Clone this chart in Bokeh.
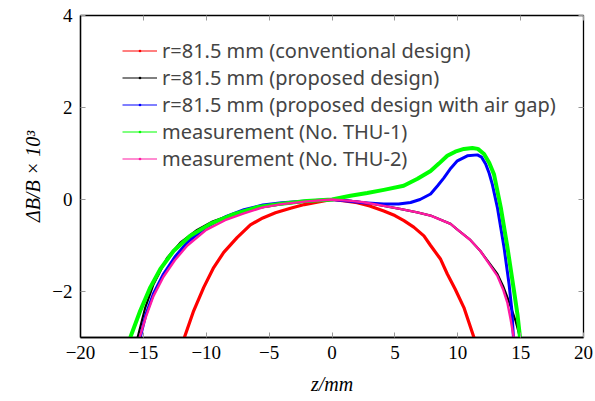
from bokeh.plotting import figure
from bokeh.models import Range1d, LinearAxis, FixedTicker, Legend, LegendItem
from bokeh.embed import file_html
from bokeh.resources import INLINE

# ---- data ----
red_z = [-11.74, -11.0, -10.2, -9.41, -8.61, -7.55, -6.49, -5.5, -4.5, -3.3, -2.2, -1.18, 0,
         1.0, 2.0, 3.0, 4.12, 5.0, 5.72, 6.5, 7.31, 7.84, 8.64, 9.17, 9.8, 10.49, 11.29]
red_y = [-3.0, -2.42, -1.91, -1.48, -1.15, -0.83, -0.55, -0.4, -0.29, -0.19, -0.11, -0.06, 0,
         -0.03, -0.07, -0.14, -0.25, -0.35, -0.46, -0.6, -0.79, -1.0, -1.3, -1.62, -1.95, -2.35, -3.0]

black_z = [-15.46, -14.85, -14.19, -13.12, -12.06, -10.73, -9.5, -7.8, -6.0, -4.0, -2.0, 0,
           1.5, 2.5, 4.12, 5.5, 6.78, 7.84, 9.43, 10.0, 11.0, 11.8, 12.5, 13.15, 13.6, 13.95,
           14.3, 14.6, 14.95]
black_y = [-3.0, -2.35, -1.84, -1.27, -0.94, -0.66, -0.48, -0.31, -0.19, -0.1, -0.04, 0,
           -0.03, -0.06, -0.14, -0.21, -0.28, -0.35, -0.53, -0.66, -0.88, -1.12, -1.38, -1.62,
           -1.88, -2.13, -2.4, -2.64, -3.0]

blue_z = [-15.25, -14.8, -14.2, -13.4, -12.5, -11.5, -10.0, -8.5, -7.0, -5.5, -4.0, -2.0, 0,
          1.47, 2.5, 4.12, 5.3, 6.25, 7.0, 7.84, 8.4, 8.9, 9.45, 9.97, 10.76, 11.56, 11.9,
          12.22, 12.5, 12.75, 13.15, 13.68, 14.08, 14.3, 14.43]
blue_y = [-3.0, -2.5, -2.05, -1.62, -1.25, -0.93, -0.6, -0.38, -0.22, -0.12, -0.07, -0.03, 0,
          -0.04, -0.07, -0.1, -0.1, -0.065, 0.0, 0.12, 0.3, 0.47, 0.68, 0.84, 0.95, 0.97, 0.92,
          0.77, 0.57, 0.33, -0.17, -1.04, -1.84, -2.4, -3.0]

green_z = [-16.04, -15.25, -14.45, -13.65, -12.6, -11.27, -9.67, -7.8, -6.0, -4.0, -2.0, 0,
           1.47, 2.8, 4.12, 5.7, 6.8, 7.84, 8.5, 9.17, 9.8, 10.49, 11.16, 11.6, 12.09, 12.5,
           12.88, 13.42, 13.95, 14.47, 14.75, 14.95]
green_y = [-3.0, -2.42, -1.91, -1.51, -1.12, -0.79, -0.53, -0.32, -0.17, -0.09, -0.03, 0,
           0.08, 0.14, 0.21, 0.3, 0.45, 0.62, 0.78, 0.95, 1.04, 1.1, 1.12, 1.1, 0.99, 0.8,
           0.55, -0.17, -1.04, -1.98, -2.5, -3.0]

pink_z = [-15.3, -14.8, -14.2, -13.4, -12.5, -11.5, -10.0, -8.5, -7.0, -5.5, -4.0, -2.0, 0,
          1.5, 2.5, 4.12, 5.5, 6.78, 7.84, 9.43, 10.0, 11.0, 11.8, 12.5, 13.15, 13.6, 13.95,
          14.2, 14.45]
pink_y = [-3.0, -2.55, -2.1, -1.68, -1.32, -1.0, -0.66, -0.45, -0.3, -0.17, -0.1, -0.04, 0,
          -0.03, -0.06, -0.14, -0.21, -0.28, -0.35, -0.53, -0.66, -0.88, -1.12, -1.4, -1.66,
          -1.95, -2.25, -2.6, -3.0]

labels = ["r=81.5 mm (conventional design)",
          "r=81.5 mm (proposed design)",
          "r=81.5 mm (proposed design with air gap)",
          "measurement (No. THU-1)",
          "measurement (No. THU-2)"]

x_ticks = [-20, -15, -10, -5, 0, 5, 10, 15, 20]
y_ticks = [-2, 0, 2, 4]

SERIF = "Liberation Serif"

# ---- figure ----
p = figure(width=595, height=401, x_range=Range1d(-20, 20), y_range=Range1d(-3, 4),
           output_backend="svg", toolbar_location=None,
           min_border_left=80, min_border_right=12, min_border_top=15, min_border_bottom=64)
p.xgrid.visible = False
p.ygrid.visible = False
p.outline_line_color = "black"
p.outline_line_width = 1.3
p.background_fill_color = "white"
p.border_fill_color = "white"

def minus(v):
    return ("\u2212" + str(-v)) if v < 0 else str(v)

for ax, ticks in ((p.xaxis[0], x_ticks), (p.yaxis[0], y_ticks)):
    ax.ticker = FixedTicker(ticks=ticks)
    ax.major_label_overrides = {t: minus(t) for t in ticks}
    ax.major_tick_in = 5
    ax.major_tick_out = 0
    ax.major_tick_line_color = "#999999"
    ax.minor_tick_line_color = None
    ax.axis_line_color = "black"
    ax.axis_line_width = 1.3
    ax.major_label_text_font = SERIF
    ax.major_label_text_font_size = "19px"
    ax.major_label_text_color = "black"
    ax.axis_label_text_color = "black"

p.xaxis.major_label_standoff = 8
p.yaxis.major_label_standoff = 8
p.xaxis.axis_label = "z/mm"
p.xaxis.axis_label_text_font = SERIF
p.xaxis.axis_label_text_font_style = "italic"
p.xaxis.axis_label_text_font_size = "20px"
p.xaxis.axis_label_standoff = 11
p.yaxis.axis_label = "\u0394B/B \u00d7 10\u00b3"
p.yaxis.axis_label_text_font = SERIF
p.yaxis.axis_label_text_font_style = "italic"
p.yaxis.axis_label_text_font_size = "20px"
p.yaxis.axis_label_standoff = 5

for loc, ticks in (("right", y_ticks), ("above", x_ticks)):
    a = LinearAxis(ticker=FixedTicker(ticks=ticks), major_tick_in=5, major_tick_out=0,
                   major_tick_line_color="#999999", minor_tick_line_color=None,
                   axis_line_color=None, major_label_text_font_size="0px",
                   major_label_standoff=0)
    p.add_layout(a, loc)

series = [
    (red_z, red_y, "#ff0000", 3.2),
    (black_z, black_y, "#000000", 2.2),
    (blue_z, blue_y, "#0000ff", 3.0),
    (green_z, green_y, "#00ff00", 4.0),
    (pink_z, pink_y, "#ff1aa3", 2.4),
]

nan = float("nan")
items = []
for (zs, ys, col, lw), lab in zip(series, labels):
    p.line(zs, ys, line_color=col, line_width=lw, line_join="round")
    # legend-only sample: thin line with a small dot (no visible data)
    l_line = p.line([nan], [nan], line_color=col, line_width=1.2)
    l_dot = p.scatter([nan], [nan], marker="dot", size=8, line_color=col, fill_color=col)
    items.append(LegendItem(label=lab, renderers=[l_line, l_dot]))

leg = Legend(items=items, location=(42, 165), margin=0, padding=0, spacing=0,
             glyph_width=35, glyph_height=27, label_height=27, label_standoff=5,
             label_text_font="Noto Sans", label_text_font_size="20px",
             border_line_color=None, background_fill_alpha=0)
p.add_layout(leg, "center")

open("out.html", "w").write(file_html(p, INLINE))
